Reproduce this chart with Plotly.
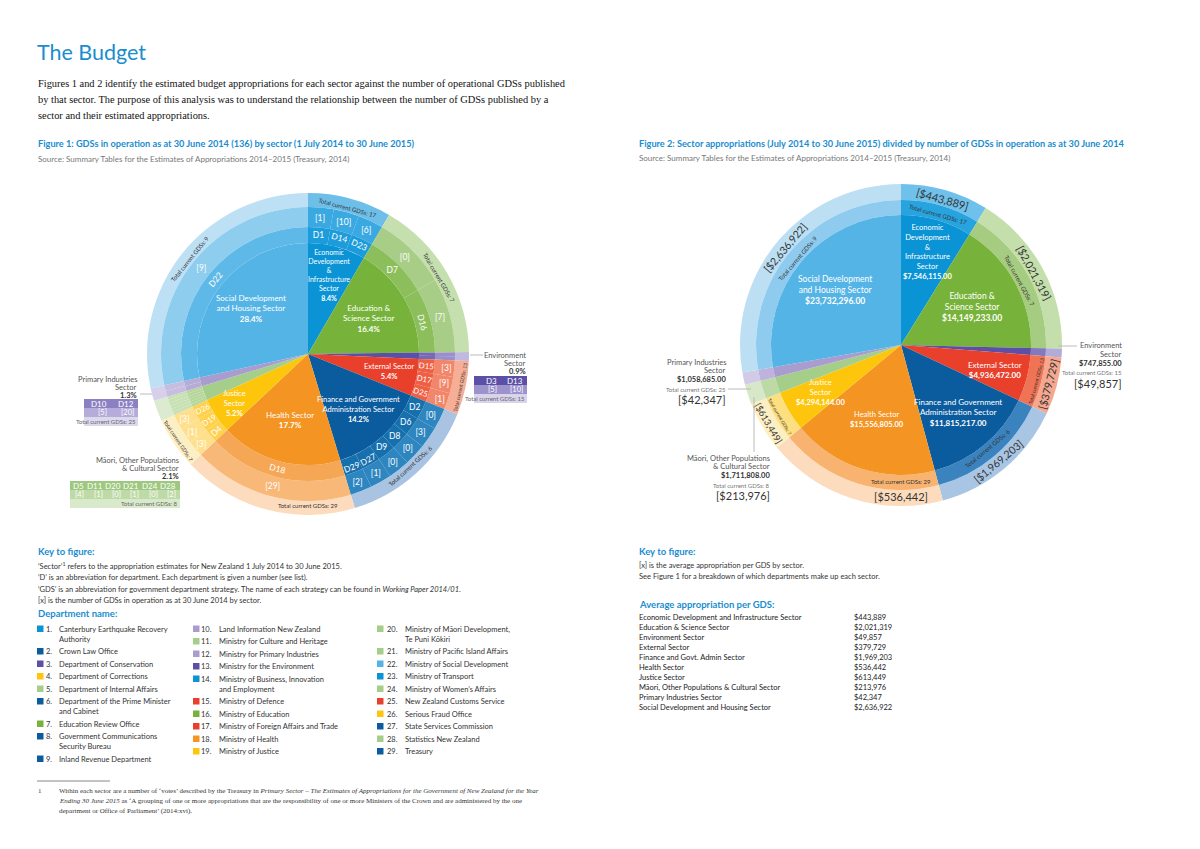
import math
import plotly.graph_objects as go

W, H = 1200, 849
OX, OY = 8, 8          # page margin of the browser around the figure
SANS = "Lato"
SERIF = "Liberation Serif"
BLUE = "#1a8dcf"

# ---------------- data ----------------
sectors = ["Economic Development & Infrastructure", "Education & Science", "Environment",
           "External", "Finance and Government Administration", "Health", "Justice",
           "Māori, Other Populations & Cultural", "Primary Industries",
           "Social Development and Housing"]
pct = [8.4, 16.4, 0.9, 5.4, 14.2, 17.7, 5.2, 2.1, 1.3, 28.4]
approp = [7546115, 14149233, 747855, 4936472, 11815217, 15556805, 4294144,
          1711808, 1058685, 23732296]
gds_total = [17, 7, 15, 13, 6, 29, 7, 8, 25, 9]
avg_approp = [443889, 2021319, 49857, 379729, 1969203, 536442, 613449, 213976, 42347, 2636922]
dept_ids = [[1, 14, 23], [7, 16], [3, 13], [15, 17, 25], [2, 6, 8, 9, 27, 29], [18],
            [4, 19, 26], [5, 11, 20, 21, 24, 28], [10, 12], [22]]
dept_gds = [[1, 10, 6], [0, 7], [5, 10], [3, 9, 1], [0, 3, 0, 0, 1, 2], [29],
            [3, 1, 3], [4, 1, 0, 1, 0, 2], [5, 20], [9]]
pie_labels = ["Economic<br>Development<br>&<br>Infrastructure<br>Sector",
              "Education &<br>Science Sector", "", "External Sector",
              "Finance and Government<br>Administration Sector", "Health Sector",
              "Justice<br>Sector", "", "", "Social Development<br>and Housing Sector"]
outside = [2, 7, 8]   # sectors labelled outside the pie
outside_names = {2: ["Environment", "Sector"], 8: ["Primary Industries", "Sector"],
                 7: ["Māori, Other Populations", "& Cultural Sector"]}

dept_names = ["Canterbury Earthquake Recovery<br>Authority", "Crown Law Office",
              "Department of Conservation", "Department of Corrections",
              "Department of Internal Affairs",
              "Department of the Prime Minister<br>and Cabinet", "Education Review Office",
              "Government Communications<br>Security Bureau", "Inland Revenue Department",
              "Land Information New Zealand", "Ministry for Culture and Heritage",
              "Ministry for Primary Industries", "Ministry for the Environment",
              "Ministry of Business, Innovation<br>and Employment", "Ministry of Defence",
              "Ministry of Education", "Ministry of Foreign Affairs and Trade",
              "Ministry of Health", "Ministry of Justice",
              "Ministry of Māori Development,<br>Te Puni Kōkiri",
              "Ministry of Pacific Island Affairs", "Ministry of Social Development",
              "Ministry of Transport", "Ministry of Women’s Affairs",
              "New Zealand Customs Service", "Serious Fraud Office",
              "State Services Commission", "Statistics New Zealand", "Treasury"]
avg_labels = ["Economic Development and Infrastructure Sector", "Education & Science Sector",
              "Environment Sector", "External Sector", "Finance and Govt. Admin Sector",
              "Health Sector", "Justice Sector", "Māori, Other Populations & Cultural Sector",
              "Primary Industries Sector", "Social Development and Housing Sector"]

# ---------------- colours / label placement ----------------
inner_col = ['#0a93d5', '#77b33a', '#5c4fa6', '#e9402b', '#0b5c9e', '#f39423', '#fdc60c',
             '#a6ce8b', '#a99ccf', '#55b4e6']
ringD_col = ['#1d9cdb', '#8cbf5c', '#7569b4', '#ee5f43', '#1670ae', '#f5a755', '#fed24e',
             '#b6d69c', '#b7acd8', '#5fb9e8']
ringN_col = ['#3aa9e1', '#a8cd87', '#9a90c9', '#f2866a', '#2e86c0', '#f7b878', '#fee08c',
             '#c7e0b4', '#c6bde0', '#8fcdef']
ringT_col = ['#6dbfea', '#c5dfae', '#c0b9de', '#f6ae97', '#a9c3e2', '#fcdcbc', '#fdefc4',
             '#dcebcf', '#d6d0ea', '#bde0f5']
f2A_col = ['#27a4df', '#a5cc80', '#8479bd', '#ef7456', '#3a83bf', '#f8b370', '#fddf7f',
           '#bcd9a6', '#bdb3dc', '#8ecbee']
f2B_col = ['#6fc0ea', '#c4dfab', '#b3abd7', '#f6a88f', '#a9c5e4', '#fcdcbc', '#fdefc4',
           '#d6e8c8', '#d2cbe7', '#bcdff4']
label_rf1 = [0.74, 0.64, 0, 0.75, 0.68, 0.62, 0.8, 0, 0, 0.66]   # radius fraction, fig 1
label_rf2 = [0.74, 0.62, 0, 0.75, 0.68, 0.6, 0.72, 0, 0, 0.66]   # radius fraction, fig 2

annotations = []
shapes = []


def px(x):
    return (x - OX) / W


def py(y):
    return 1 - (y - OY) / H


def A(x, y, text, size=7.5, color='#333', xanchor='left', yanchor='middle', align='left',
      family=SANS):
    annotations.append(dict(x=px(x), y=py(y), xref='paper', yref='paper', text=text,
                            showarrow=False, xanchor=xanchor, yanchor=yanchor, align=align,
                            font=dict(size=size, color=color, family=family), borderpad=0))


def R(x0, y0, x1, y1, color):
    shapes.append(dict(type='rect', xref='paper', yref='paper', x0=px(x0), x1=px(x1),
                       y0=py(y1), y1=py(y0), fillcolor=color, line=dict(width=0),
                       layer='above'))


def L(x0, y0, x1, y1, color='#aaa', width=1):
    shapes.append(dict(type='line', xref='paper', yref='paper', x0=px(x0), x1=px(x1),
                       y0=py(y0), y1=py(y1), line=dict(color=color, width=width)))


def dom(cx, cy, r):
    return dict(x=[px(cx - r), px(cx + r)], y=[py(cy + r), py(cy - r)])


def ring(cx, cy, r_out, r_in, values, labels, colors, texts, size, tcolor, orient):
    return go.Pie(values=values, labels=labels, marker=dict(colors=colors, line=dict(width=0)),
                  text=texts, textinfo='text' if texts else 'none', textposition='inside',
                  insidetextorientation=orient,
                  textfont=dict(size=size, color=tcolor, family=SANS),
                  hole=(r_in / r_out) if r_in else 0, sort=False, direction='clockwise',
                  rotation=0, domain=dom(cx, cy, r_out), hoverinfo='skip', showlegend=False)


def slice_labels(cx, cy, r, values, texts, sizes, rf):
    """Place sector labels at the middle angle of each slice (clockwise from 12 o'clock)."""
    total = sum(values)
    cum = 0
    for i, v in enumerate(values):
        mid = (cum + v / 2) / total * 2 * math.pi
        cum += v
        if not texts[i]:
            continue
        rr = rf[i] * r
        A(cx + rr * math.sin(mid), cy - rr * math.cos(mid), texts[i], sizes[i], 'white',
          'center', 'middle', 'center')


fig = go.Figure()

# ---------------- Figure 1 ----------------
c1x, c1y = 308, 354
r0, r1, r2, r3 = 111, 127, 147, 161

t_text = ["" if i in outside else f"Total current GDSs: {gds_total[i]}" for i in range(10)]
fig.add_trace(ring(c1x, c1y, r3, r2, pct, [f"T{s}" for s in sectors], ringT_col, t_text,
                   6, '#333', 'tangential'))

d_vals, d_lab, d_col, d_txt, n_col, n_txt = [], [], [], [], [], []
for i, ids in enumerate(dept_ids):
    for j, d in enumerate(ids):
        d_vals.append(pct[i] / len(ids))
        d_lab.append(f"D{d}")
        d_col.append(ringD_col[i])
        n_col.append(ringN_col[i])
        d_txt.append("" if i in outside else f"D{d}")
        n_txt.append("" if i in outside else f"[{dept_gds[i][j]}]")
fig.add_trace(ring(c1x, c1y, r2, r1, d_vals, [f"N{l}" for l in d_lab], n_col, n_txt,
                   8.5, 'white', 'auto'))
fig.add_trace(ring(c1x, c1y, r1, r0, d_vals, d_lab, d_col, d_txt, 8.5, 'white', 'auto'))
fig.add_trace(ring(c1x, c1y, r0, 0, pct, sectors, inner_col, None, 8, 'white', 'horizontal'))

in_text = ["" if i in outside else f"{pie_labels[i]}<br><b>{pct[i]}%</b>" for i in range(10)]
sizes1 = [7, 8, 0, 7.5, 7.5, 8, 7.5, 0, 0, 8]
slice_labels(c1x, c1y, r0, pct, in_text, sizes1, label_rf1)

# outside labels, figure 1
tables = {2: dict(x0=474, x1=527, y0=376, ly=355, line=(470, 355, 483, 355),
                  cols=['#5c4fa6', '#9d93cc', '#d9d4ec']),
          8: dict(x0=84, x1=138, y0=399, ly=379, line=(140, 394, 152, 394),
                  cols=['#8b80c2', '#b5acd9', '#dcd8ee']),
          7: dict(x0=70, x1=180, y0=481, ly=460, line=None,
                  cols=['#9ec77f', '#bedaa6', '#d9e9cb'])}
for i, tb in tables.items():
    x0, x1, y0 = tb['x0'], tb['x1'], tb['y0']
    nm = outside_names[i]
    A(x1, tb['ly'], nm[0], 7.5, '#555', 'right')
    A(x1, tb['ly'] + 8.5, nm[1], 7.5, '#555', 'right')
    A(x1, tb['ly'] + 16.5, f"<b>{pct[i]}%</b>", 7.5, '#333', 'right')
    if tb['line']:
        L(*tb['line'], color='#bbb')
    hs = [9, 9, 9]
    ys = [y0, y0 + hs[0], y0 + hs[0] + hs[1], y0 + sum(hs)]
    for k in range(3):
        R(x0, ys[k], x1, ys[k + 1], tb['cols'][k])
    n = len(dept_ids[i])
    cw = (x1 - x0) / n
    for j, d in enumerate(dept_ids[i]):
        A(x0 + cw * (j + 1) - 3, (ys[0] + ys[1]) / 2, f"D{d}", 8, 'white', 'right')
        A(x0 + cw * (j + 1) - 3, (ys[1] + ys[2]) / 2, f"[{dept_gds[i][j]}]", 7.5, 'white',
          'right')
    A(x1 - 1, (ys[2] + ys[3]) / 2, f"Total current GDSs: {gds_total[i]}", 6, '#666', 'right')

# ---------------- Figure 2 ----------------
c2x, c2y = 901, 345
q0, q1, q2 = 130, 145, 161
b_text = ["" if i in outside else f"[${avg_approp[i]:,}]" for i in range(10)]
fig.add_trace(ring(c2x, c2y, q2, q1, approp, [f"B{s}" for s in sectors], f2B_col, b_text,
                   11, '#333', 'tangential'))
a_text = ["" if i in outside else f"Total current GDSs: {gds_total[i]}" for i in range(10)]
fig.add_trace(ring(c2x, c2y, q1, q0, approp, [f"A{s}" for s in sectors], f2A_col, a_text,
                   6, '#333', 'tangential'))
fig.add_trace(ring(c2x, c2y, q0, 0, approp, [f"I{s}" for s in sectors], inner_col, None,
                   8.5, 'white', 'horizontal'))
in2_text = ["" if i in outside else f"{pie_labels[i]}<br><b>${approp[i]:,.2f}</b>"
            for i in range(10)]
sizes2 = [7.5, 8.5, 0, 8, 8, 7.5, 7.5, 0, 0, 8.5]
slice_labels(c2x, c2y, q0, approp, in2_text, sizes2, label_rf2)

f2_out = {8: dict(x=727, y=362, line=(728, 389, 751, 389), tot=389, avg=400),
          2: dict(x=1123, y=346, line=(1058, 346, 1077, 346), tot=373, avg=383),
          7: dict(x=771, y=458, line=(754, 397, 754, 452), tot=485, avg=495)}
for i, o in f2_out.items():
    nm = outside_names[i]
    A(o['x'], o['y'], nm[0], 7.5, '#555', 'right')
    A(o['x'], o['y'] + 8.5, nm[1], 7.5, '#555', 'right')
    A(o['x'], o['y'] + 17.5, f"<b>${approp[i]:,.2f}</b>", 7.5, '#333', 'right')
    A(o['x'], o['tot'], f"Total current GDSs: {gds_total[i]}", 6, '#777', 'right')
    A(o['x'], o['avg'], f"[${avg_approp[i]:,}]", 11, '#333', 'right')
    L(*o['line'], color='#bbb')

# ---------------- page text ----------------
A(36, 52, "The Budget", 21.5, BLUE)
para = ["Figures 1 and 2 identify the estimated budget appropriations for each sector against the number of operational GDSs published",
        "by that sector. The purpose of this analysis was to understand the relationship between the number of GDSs published by a",
        "sector and their estimated appropriations."]
for k, t in enumerate(para):
    A(37, 84 + k * 15.5, t, 10.4, '#111', family=SERIF)

A(37, 143, "<b>Figure 1: GDSs in operation as at 30 June 2014 (136) by sector (1 July 2014 to 30 June 2015)</b>",
  9.2, BLUE)
A(37, 159, "Source: Summary Tables for the Estimates of Appropriations 2014–2015 (Treasury, 2014)",
  8.0, '#777')
A(638, 143, "<b>Figure 2: Sector appropriations (July 2014 to 30 June 2015) divided by number of GDSs in operation as at 30 June 2014</b>",
  9.2, BLUE)
A(638, 158, "Source: Summary Tables for the Estimates of Appropriations 2014–2015 (Treasury, 2014)",
  8.0, '#777')

# key, left
A(37, 551, "<b>Key to figure:</b>", 9.5, BLUE)
key_lines = ["‘Sector’<sup>1</sup> refers to the appropriation estimates for New Zealand 1 July 2014 to 30 June 2015.",
             "‘D’ is an abbreviation for department. Each department is given a number (see list).",
             "‘GDS’ is an abbreviation for government department strategy. The name of each strategy can be found in <i>Working Paper 2014/01</i>.",
             "[x] is the number of GDSs in operation as at 30 June 2014 by sector."]
for k, t in enumerate(key_lines):
    A(37, 566 + k * 11.6, t, 7.5, '#333')
A(37, 613, "<b>Department name:</b>", 9.5, BLUE)

dept_sector = {}
for i, ids in enumerate(dept_ids):
    for d in ids:
        dept_sector[d] = i
cols_x = [(37, 45, 58), (193, 200, 218), (377, 386, 404)]
col_ranges = [range(1, 10), range(10, 20), range(20, 30)]
for (sx, nx, tx), rng in zip(cols_x, col_ranges):
    y = 629
    for d in rng:
        R(sx, y - 3.5, sx + 6.5, y + 3, inner_col[dept_sector[d]])
        A(nx, y, f"{d}.", 7.5, '#333')
        A(tx, y - 5.5, dept_names[d - 1], 7.5, '#333', yanchor='top')
        y += 12.5 + 10 * dept_names[d - 1].count("<br>")

# key, right
A(638, 551, "<b>Key to figure:</b>", 9.5, BLUE)
A(638, 565, "[x] is the average appropriation per GDS by sector.", 7.5, '#333')
A(638, 576, "See Figure 1 for a breakdown of which departments make up each sector.", 7.5, '#333')
A(638, 604, "<b>Average appropriation per GDS:</b>", 9.5, BLUE)
for k, (lab, v) in enumerate(zip(avg_labels, avg_approp)):
    A(638, 617 + k * 10.1, lab, 7.5, '#222')
    A(853, 617 + k * 10.1, f"${v:,}", 7.5, '#222')

# footnote
L(37, 781, 110, 781, color='#888')
A(37, 791, "1", 7, '#333', family=SERIF)
foot = ["Within each sector are a number of ‘votes’ described by the Treasury in <i>Primary Sector – The Estimates of Appropriations for the Government of New Zealand for the Year</i>",
        "<i>Ending 30 June 2015</i> as ‘A grouping of one or more appropriations that are the responsibility of one or more Ministers of the Crown and are administered by the one",
        "department or Office of Parliament’ (2014:xvi)."]
for k, t in enumerate(foot):
    A(58, 791 + k * 10, t, 7, '#333', family=SERIF)

fig.update_layout(width=W, height=H, margin=dict(l=0, r=0, t=0, b=0),
                  paper_bgcolor='white', plot_bgcolor='white', showlegend=False,
                  annotations=annotations, shapes=shapes)
fig.write_html("out.html", config={'displayModeBar': False})
